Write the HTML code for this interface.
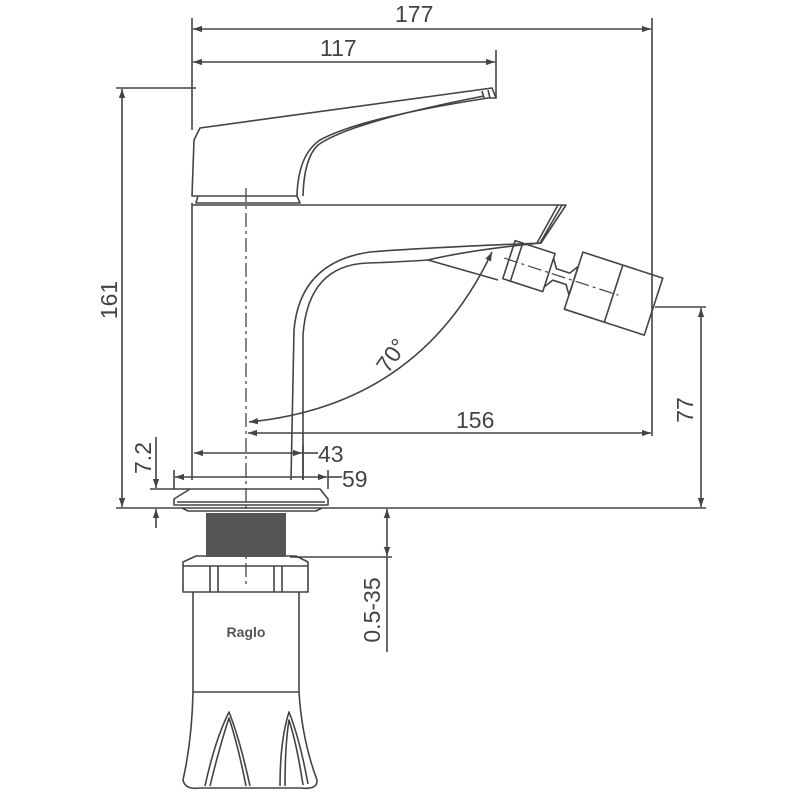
<!DOCTYPE html>
<html><head><style>html,body{margin:0;padding:0;background:#fff}svg{display:block}</style></head>
<body>
<svg width="800" height="800" viewBox="0 0 800 800" xmlns="http://www.w3.org/2000/svg">
<defs>
<marker id="a" viewBox="0 0 10 10" refX="10" refY="5" markerWidth="9" markerHeight="9" orient="auto-start-reverse" markerUnits="userSpaceOnUse"><path d="M0,1.5 L10,5 L0,8.5 z" fill="#444"/></marker>
</defs>
<g fill="none" stroke="#444" stroke-width="1.6" stroke-linejoin="round">
<line x1="192" y1="18" x2="192" y2="130"/>
<line x1="652" y1="18" x2="652" y2="436"/>
<line x1="496" y1="50" x2="496" y2="98"/>
<line x1="116" y1="88" x2="196" y2="88"/>
<line x1="116" y1="508" x2="706" y2="508"/>
<line x1="655" y1="307" x2="706" y2="307"/>
<line x1="290" y1="557" x2="392" y2="557"/>
<line x1="387" y1="557" x2="387" y2="652"/>
<line x1="150" y1="489" x2="190" y2="489"/>
<line x1="174" y1="470" x2="174" y2="489"/>
<line x1="328" y1="470" x2="328" y2="489"/>
<line x1="303" y1="445" x2="303" y2="480"/>
<line x1="328" y1="477" x2="342" y2="477"/>
<line x1="303" y1="453" x2="318" y2="453"/>
<line x1="193" y1="29" x2="651" y2="29" marker-start="url(#a)" marker-end="url(#a)"/>
<line x1="193" y1="62" x2="495" y2="62" marker-start="url(#a)" marker-end="url(#a)"/>
<line x1="122" y1="89" x2="122" y2="507" marker-start="url(#a)" marker-end="url(#a)"/>
<line x1="248" y1="433" x2="651" y2="433" marker-start="url(#a)" marker-end="url(#a)"/>
<line x1="194" y1="453" x2="302" y2="453" marker-start="url(#a)" marker-end="url(#a)"/>
<line x1="175" y1="477" x2="327" y2="477" marker-start="url(#a)" marker-end="url(#a)"/>
<line x1="701" y1="308" x2="701" y2="507" marker-start="url(#a)" marker-end="url(#a)"/>
<line x1="387" y1="509" x2="387" y2="556" marker-start="url(#a)" marker-end="url(#a)"/>
<line x1="156" y1="437" x2="156" y2="488" marker-end="url(#a)"/>
<line x1="156" y1="528" x2="156" y2="509" marker-end="url(#a)"/>
<path d="M249,422 Q420,405 492,252" marker-start="url(#a)" marker-end="url(#a)"/>
<!-- handle -->
<path d="M192,196 L194,140 L200,128 L492,88 L496,98 L488,98 Q360,118 320,140 Q298,155 297,196 Z"/>
<path d="M484,96 Q350,122 318,145 Q304,158 303,196"/>
<path d="M482,91 L484,98 M488,90 L490,98"/>
<path d="M198,196 L196,203 L300,203 L297,196"/>
<!-- body -->
<path d="M192,203 L192,480 M192,205 L566,205 L541,243 Q420,248 370,252 Q300,262 294,330 L291,480"/>
<path d="M303,480 L303,335 Q308,265 368,263 Q400,262 428,260 L498,280"/>
<path d="M558,205 L537,243 M562,205 L540,243"/>
<path d="M428,260 Q470,250 541,243"/>
<g transform="translate(547,272) rotate(18)">
<rect x="-40" y="-20" width="42" height="40"/>
<line x1="-32" y1="-20" x2="-32" y2="20"/>
<path d="M2,-15 L8,-6 L22,-6 L28,-15 M2,15 L8,6 L22,6 L28,15 M28,-15 L28,15"/>
<rect x="28" y="-30" width="84" height="60"/>
<line x1="70" y1="-30" x2="70" y2="30"/>
<line x1="-45" y1="0" x2="75" y2="0" stroke-dasharray="14,4,3,4" stroke-width="1.2"/>
</g>
<line x1="246" y1="188" x2="246" y2="585" stroke-dasharray="14,4,3,4" stroke-width="1.3"/>
<path d="M190,489 L320,489 L328,499 L328,505 L174,505 L174,499 Z"/>
<line x1="177" y1="502" x2="325" y2="502"/>
<path d="M182,508 L188,511 L316,511 L322,508"/>
<path d="M183,562 L183,592 L308,592 L308,562 L296,556 L196,556 Z"/>
<line x1="183" y1="566" x2="308" y2="566"/>
<line x1="210" y1="566" x2="210" y2="592"/><line x1="218" y1="566" x2="218" y2="592"/>
<line x1="274" y1="566" x2="274" y2="592"/><line x1="282" y1="566" x2="282" y2="592"/>
<path d="M193,592 L193,692 L299,692 L299,592"/>
<path d="M193,692 Q192,740 183,780 Q185,790 200,788 L300,788 Q318,790 317,780 Q302,740 299,692"/>
<path d="M205,786 Q215,740 229,712 Q240,740 250,786 M210,786 Q220,745 229,718 Q238,745 246,786"/>
<path d="M280,786 Q280,740 289,712 Q300,740 308,784 M285,786 Q285,745 289,720 Q297,745 303,785"/>
</g>
<rect x="206" y="513" width="80" height="44" fill="#555"/>
<g font-family="'Liberation Sans',sans-serif" font-size="23" fill="#444">
<text x="395" y="22">177</text>
<text x="320" y="56">117</text>
<text x="456" y="428">156</text>
<text x="318" y="462">43</text>
<text x="342" y="487">59</text>
<text transform="translate(117,300) rotate(-90)" text-anchor="middle">161</text>
<text transform="translate(693,410) rotate(-90)" text-anchor="middle">77</text>
<text transform="translate(151,458) rotate(-90)" text-anchor="middle">7.2</text>
<text transform="translate(380,610) rotate(-90)" text-anchor="middle">0.5-35</text>
<text transform="translate(398,360) rotate(-55)" text-anchor="middle">70°</text>
<text x="246" y="637" font-size="14" font-weight="bold" text-anchor="middle" fill="#555">Raglo</text>
</g>
</svg>
</body></html>
